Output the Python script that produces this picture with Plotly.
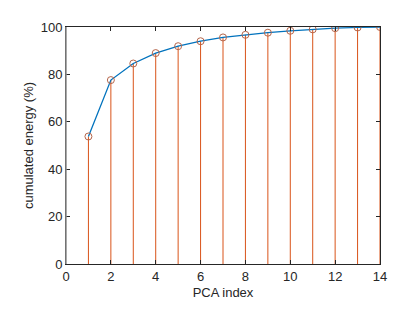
import plotly.graph_objects as go

pca_index = list(range(1, 15))
cum_energy = [53.8, 77.6, 84.6, 89.0, 91.9, 94.0, 95.6, 96.7, 97.6, 98.4, 99.0, 99.5, 99.8, 100.0]
x_ticks = list(range(0, 15, 2))
y_ticks = list(range(0, 101, 20))

stem_x, stem_y = [], []
for xi, yi in zip(pca_index, cum_energy):
    stem_x += [xi, xi, None]
    stem_y += [0, yi, None]

fig = go.Figure()
fig.add_trace(go.Scatter(x=stem_x, y=stem_y, mode="lines",
                         line=dict(color="#D95319", width=1), showlegend=False, hoverinfo="skip"))
fig.add_trace(go.Scatter(x=pca_index, y=cum_energy, mode="lines",
                         line=dict(color="#0072BD", width=1.3), showlegend=False))
fig.add_trace(go.Scatter(x=pca_index, y=cum_energy, mode="markers",
                         marker=dict(symbol="circle-open", size=7, color="#B5654A", line=dict(width=1)),
                         showlegend=False))

axis_common = dict(showline=True, linecolor="#262626", linewidth=1, mirror="ticks",
                   ticks="inside", ticklen=4, tickcolor="#262626", showgrid=False, zeroline=False,
                   tickfont=dict(family="Liberation Sans, Arial", size=13, color="#262626"))

fig.update_layout(
    width=414, height=309,
    margin=dict(l=58, r=42, t=12, b=53),
    paper_bgcolor="white", plot_bgcolor="white",
    font=dict(family="Liberation Sans, Arial", size=13, color="#262626"),
    xaxis=dict(range=[0, 14], tickvals=x_ticks,
               title=dict(text="PCA index", font=dict(size=13), standoff=5), **axis_common),
    yaxis=dict(range=[0, 100], tickvals=y_ticks,
               title=dict(text="cumulated energy (%)", font=dict(size=13), standoff=4), **axis_common),
    shapes=[dict(type="line", xref="paper", yref="paper", x0=0, x1=0, y0=0, y1=1,
                 line=dict(color="#8C8C8C", width=1.5))],
)

fig.write_html("out.html")
